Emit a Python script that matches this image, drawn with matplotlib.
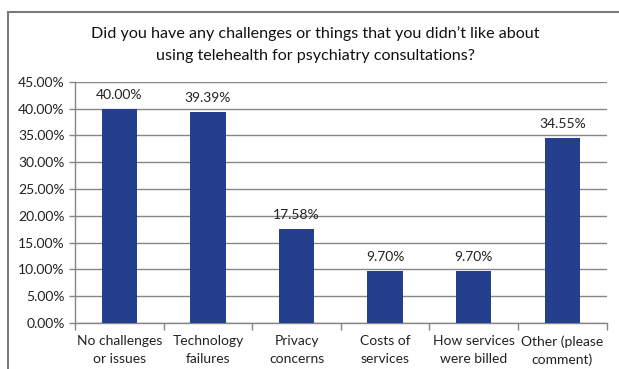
import matplotlib
matplotlib.use("Agg")
import matplotlib.pyplot as plt
from matplotlib.patches import Rectangle
from matplotlib.ticker import FuncFormatter

categories = ["No challenges\nor issues", "Technology\nfailures", "Privacy\nconcerns",
              "Costs of\nservices", "How services\nwere billed", "Other (please\ncomment)"]
values = [40.00, 39.39, 17.58, 9.70, 9.70, 34.55]
title = "Did you have any challenges or things that you didn\u2019t like about\nusing telehealth for psychiatry consultations?"

plt.rcParams["font.family"] = ["Lato", "DejaVu Sans"]
grey = "#868686"
bar_color = "#253f8f"

fig = plt.figure(figsize=(6.19, 3.69), dpi=100)
ax = fig.add_axes([0.1212, 0.1247, 0.8588, 0.6539])

x = range(len(values))
ax.bar(x, values, width=0.4, color=bar_color, zorder=3)
for xi, v in zip(x, values):
    ax.annotate(f"{v:.2f}%", (xi, v), xytext=(0, 5.5), textcoords="offset points",
                ha="center", va="bottom", fontsize=10, color="#222222")

ax.set_ylim(0, 45)
ax.set_yticks(range(0, 46, 5))
ax.yaxis.set_major_formatter(FuncFormatter(lambda v, p: f"{v:.2f}%"))
ax.set_xlim(-0.5, len(values) - 0.5)
ax.set_xticks([i - 0.5 for i in range(len(values) + 1)])
ax.set_xticklabels([])
ax.set_xticks(list(x), minor=True)
ax.set_xticklabels(categories, minor=True, fontsize=10, color="#222222", linespacing=1.55)
ax.tick_params(axis="x", which="major", length=5, color=grey, width=1)
ax.tick_params(axis="x", which="minor", length=0, pad=9)
ax.tick_params(axis="y", length=4, color=grey, width=1, labelsize=10, labelcolor="#222222")
ax.grid(axis="y", color=grey, lw=1, zorder=0)
for s in ["top", "right"]:
    ax.spines[s].set_visible(False)
for s in ["left", "bottom"]:
    ax.spines[s].set_color(grey)
    ax.spines[s].set_linewidth(1)

fig.text(0.509, 0.879, title, ha="center", va="center", fontsize=11.6, color="#111111",
         linespacing=1.75)

fig.patches.append(Rectangle((8 / 619, -0.1), 1.2, 0.1 + 1 - 11.7 / 369,
                             transform=fig.transFigure, fill=False, ec="#7a7a7a", lw=1.5))

fig.savefig("out.png", dpi=100)
